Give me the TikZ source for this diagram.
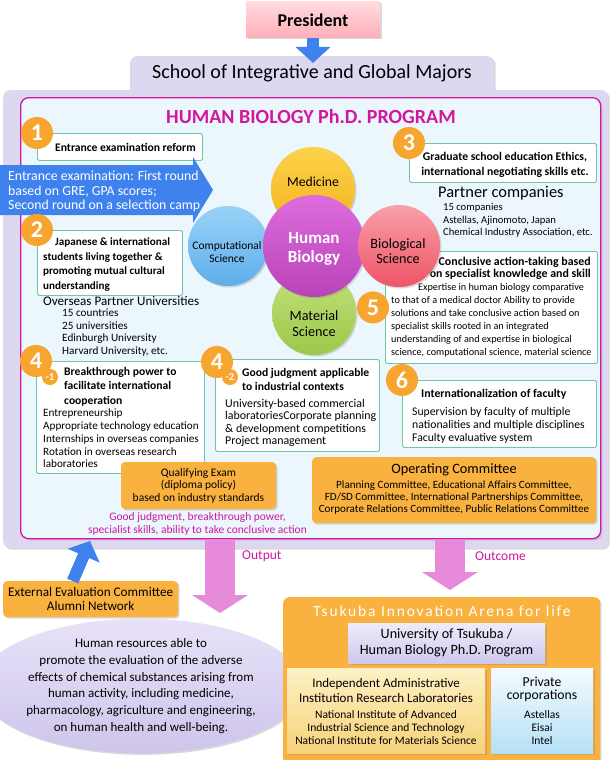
\documentclass[tikz,border=0pt]{standalone}
\usepackage{fontspec}
\setmainfont{Carlito}
\usetikzlibrary{arrows.meta,positioning,shadows,shapes.geometric}
\definecolor{lav}{HTML}{DDD8F0}
\definecolor{lavdk}{HTML}{B9AEDC}
\definecolor{skyfill}{HTML}{EBF7FD}
\definecolor{magent}{HTML}{D2169E}
\definecolor{mint}{HTML}{6CC7AE}
\definecolor{orng}{HTML}{F9B13F}
\definecolor{badgeor}{HTML}{F7A52E}
\definecolor{azure}{HTML}{3F82EE}
\definecolor{orchid}{HTML}{E78AD9}
\definecolor{pinktop}{HTML}{FFDCE0}
\definecolor{pinkbot}{HTML}{FFAEB7}
\definecolor{medtop}{HTML}{FCD24A}\definecolor{medbot}{HTML}{F4B21F}
\definecolor{hbtop}{HTML}{DE6CDE}\definecolor{hbbot}{HTML}{B844B8}
\definecolor{comptop}{HTML}{9AD2F8}\definecolor{compbot}{HTML}{5EAEEA}
\definecolor{biotop}{HTML}{F9A0A8}\definecolor{biobot}{HTML}{EE5466}
\definecolor{mattop}{HTML}{C2E07A}\definecolor{matbot}{HTML}{9CC84A}
\definecolor{elltop}{HTML}{E8E2F8}\definecolor{ellbot}{HTML}{CEC5EB}
\definecolor{univtop}{HTML}{EFEBFB}\definecolor{univbot}{HTML}{D0C8EE}
\definecolor{indtop}{HTML}{FDF1C4}\definecolor{indbot}{HTML}{F7D27A}
\definecolor{privtop}{HTML}{F4FBFE}\definecolor{privbot}{HTML}{B6E0F7}
\tikzset{softshadow/.style={drop shadow={opacity=.3,shadow xshift=1.5pt,shadow yshift=-1.5pt}},lavpanel/.style={fill=lav,rounded corners=7pt,anchor=north west,inner sep=0pt,softshadow},tealbox/.style={draw=mint,line width=.9pt,fill=white,rounded corners=1.5pt,anchor=north west,inner sep=0pt},orangebox/.style={fill=orng,rounded corners=4pt,inner sep=0pt,softshadow},badge/.style={circle,fill=badgeor,text=white,inner sep=0pt,minimum size=32pt,font=\bfseries\fontsize{24}{24}\selectfont},subbadge/.style={circle,fill=badgeor,text=white,inner sep=0pt,minimum size=16pt,font=\bfseries\fontsize{10.5}{10}\selectfont},heading/.style={inner sep=0pt,align=left,font=\bfseries\fontsize{11.6}{14.5}\selectfont},bodytext/.style={inner sep=0pt,align=left,font=\fontsize{11.2}{12.7}\selectfont},sphere/.style={circle,inner sep=0pt,softshadow},spheretext/.style={inner sep=0pt,align=center,font=\fontsize{14.2}{15}\selectfont},fatarrow/.style={line width=30pt,orchid,-{Triangle[width=55pt,length=18pt]}},bluearrow/.style={line width=12pt,azure,-{Triangle[width=34pt,length=16pt]}},outlabel/.style={text=magent,inner sep=0pt,font=\fontsize{13.5}{15}\selectfont}}
\begin{document}
\begin{tikzpicture}[x=1pt,y=-1pt]
\useasboundingbox (0,0) rectangle (610,760);
\node[lavpanel,minimum width=364pt,minimum height=44pt] (tab) at (130,56) {};
\node[lavpanel,minimum width=605pt,minimum height=458pt] (school) at (3,90) {};
\node[font=\fontsize{20}{22}\selectfont] (schooltitle) at (312,73) {School of Integrative and Global Majors};
\node[draw=magent,line width=1.3pt,fill=skyfill,rounded corners=8pt,anchor=north west,minimum width=580pt,minimum height=441pt,drop shadow={opacity=.5,color=lavdk,shadow xshift=2pt,shadow yshift=-2pt}] (prog) at (20,97) {};
\node[text=magent,font=\bfseries\fontsize{20}{22}\selectfont] (progtitle) at (311,117) {HUMAN BIOLOGY Ph.D. PROGRAM};
% president
\node[top color=pinktop,bottom color=pinkbot,minimum width=134pt,minimum height=36pt,softshadow,font=\bfseries\fontsize{18}{20}\selectfont] (pres) at (313,20) {President};
\coordinate (schooltop) at (313,63);
\draw[bluearrow] (pres.south) -- (schooltop);
% 1 entrance
\node[tealbox,minimum width=165pt,minimum height=27pt] (box1) at (37,133) {};
\node[badge] (num1) at (box1.north west) {1};
\node[heading,anchor=west] (head1) at (55,147) {Entrance examination reform};
\fill[azure] (0,165) -- (193,165) -- (193,157) -- (213,190) -- (193,223) -- (193,215) -- (0,215) -- cycle;
\node[bodytext,text=white,anchor=west,font=\fontsize{13.8}{14.5}\selectfont] (entrance) at (8,191.5) {Entrance examination: First round\\based on GRE, GPA scores;\\Second round on a selection camp};
% 2 students
\node[tealbox,minimum width=145pt,minimum height=65pt] (box2) at (37,230) {};
\node[badge] (num2) at (box2.north west) {2};
\node[heading,anchor=west,font=\bfseries\fontsize{11.1}{14.5}\selectfont] (head2) at (43,264.5) {\hspace*{12pt}Japanese \& international\\students living together \&\\promoting mutual cultural\\understanding};
\node[inner sep=0pt,anchor=west,font=\fontsize{13.1}{14}\selectfont] (overseas) at (43,301) {Overseas Partner Universities};
\node[bodytext,anchor=west,font=\fontsize{11.2}{12.4}\selectfont] (overseaslist) at (62,332.5) {15 countries\\25 universities\\Edinburgh University\\Harvard University, etc.};
% 3 ethics
\node[tealbox,minimum width=187pt,minimum height=39pt] (box3) at (409,143) {};
\node[badge] (num3) at (box3.north west) {3};
\node[heading,align=center,font=\bfseries\fontsize{11.7}{15}\selectfont] (head3) at (505,164.5) {Graduate school education Ethics,\\international negotiating skills etc.};
\node[inner sep=0pt,anchor=west,font=\fontsize{16.4}{17}\selectfont] (partner) at (438,193) {Partner companies};
\node[bodytext,anchor=west,font=\fontsize{10.6}{12.5}\selectfont] (partnerlist) at (443,220.5) {15 companies\\Astellas, Ajinomoto, Japan\\Chemical Industry Association, etc.};
% 5 conclusive action
\node[tealbox,minimum width=212pt,minimum height=112pt] (box5) at (385,251) {};
\node[badge] (num5) at ([xshift=-12pt]box5.west) {5};
\node[heading,align=right,anchor=east,font=\bfseries\fontsize{11.9}{12}\selectfont] (head5) at (591,268.5) {Conclusive action-taking based\\on specialist knowledge and skill};
\node[bodytext,anchor=west,font=\fontsize{10.2}{13}\selectfont] (body5) at (391,320.5) {\hspace*{27pt}Expertise in human biology comparative\\to that of a medical doctor Ability to provide\\solutions and take conclusive action based on\\specialist skills rooted in an integrated\\understanding of and expertise in biological\\science, computational science, material science};
% 6 faculty
\node[tealbox,minimum width=194pt,minimum height=67pt] (box6) at (402,380) {};
\node[badge] (num6) at (box6.north west) {6};
\node[heading,anchor=west,font=\bfseries\fontsize{11.8}{12}\selectfont] (head6) at (421,394) {Internationalization of faculty};
\node[bodytext,anchor=west,font=\fontsize{11.7}{13}\selectfont] (body6) at (412,425) {Supervision by faculty of multiple\\nationalities and multiple disciplines\\Faculty evaluative system};
% operating committee
\node[orangebox,anchor=north west,minimum width=284pt,minimum height=66pt] (opc) at (312,457) {};
\node[inner sep=0pt,font=\fontsize{14.3}{15}\selectfont] (opctitle) at (454,470) {Operating Committee};
\node[inner sep=0pt,align=center,font=\fontsize{11.1}{12}\selectfont] (opclist) at (454,498) {Planning Committee, Educational Affairs Committee,\\FD/SD Committee, International Partnerships Committee,\\Corporate Relations Committee, Public Relations Committee};
% 4-1 breakthrough
\node[tealbox,minimum width=168pt,minimum height=112pt] (box41) at (36,361) {};
\node[badge] (num41) at (box41.north west) {4};
\node[subbadge] (sub41) at ([shift={(14,16)}]box41.north west) {-1};
\node[heading,anchor=west] (head41) at (64,386.5) {Breakthrough power to\\facilitate international\\cooperation};
\node[bodytext,anchor=west] (body41) at (43,438.5) {Entrepreneurship\\Appropriate technology education\\Internships in overseas companies\\Rotation in overseas research\\laboratories};
% 4-2 judgment
\node[tealbox,minimum width=164pt,minimum height=92pt] (box42) at (215,359) {};
\node[badge] (num42) at ([shift={(2,3)}]box42.north west) {4};
\node[subbadge] (sub42) at ([shift={(15,18)}]box42.north west) {-2};
\node[heading,anchor=west] (head42) at (242,379.5) {Good judgment applicable\\to industrial contexts};
\node[bodytext,anchor=west,font=\fontsize{11.9}{12.3}\selectfont] (body42) at (225,423) {University-based commercial\\laboratoriesCorporate planning\\\& development competitions\\Project management};
\node[orangebox,align=center,minimum width=155pt,minimum height=47pt,font=\fontsize{11.5}{12.5}\selectfont] (qexam) at (198.5,485.5) {Qualifying Exam\\(diploma policy)\\based on industry standards};
\node[text=magent,align=center,inner sep=0pt,font=\fontsize{11.5}{13}\selectfont] (skills) at (197.5,523.5) {Good judgment, breakthrough power,\\specialist skills, ability to take conclusive action};
% disciplines
\node[sphere,minimum size=80pt,top color=comptop,bottom color=compbot] (comp) at (228,246) {};
\node[spheretext,font=\fontsize{11.5}{13}\selectfont] (complabel) at (227,252) {Computational\\Science};
\node[sphere,minimum size=84pt,top color=medtop,bottom color=medbot] (med) at (313,189) {};
\node[spheretext,font=\fontsize{13.7}{15}\selectfont] (medlabel) at (313,182) {Medicine};
\node[sphere,minimum size=84pt,top color=mattop,bottom color=matbot] (mat) at (314,313) {};
\node[spheretext,font=\fontsize{14.2}{16.5}\selectfont] (matlabel) at (314,323.5) {Material\\Science};
\node[sphere,minimum size=102pt,top color=hbtop,bottom color=hbbot] (hb) at (314,246) {};
\node[spheretext,text=white,font=\bfseries\fontsize{17}{19}\selectfont] (hblabel) at (314,249) {Human\\Biology};
\node[sphere,minimum size=82pt,top color=biotop,bottom color=biobot] (bio) at (399,246) {};
\node[spheretext] (biolabel) at (398,251) {Biological\\Science};
% outputs
\coordinate (outtip) at (220,613);
\draw[fatarrow] (prog.south -| outtip) -- (outtip);
\node[outlabel,anchor=west] (outputlabel) at (242,556) {Output};
\coordinate (outcometip) at (450,590);
\draw[fatarrow] (prog.south -| outcometip) -- (outcometip);
\node[outlabel,anchor=west] (outcomelabel) at (475,556) {Outcome};
\node[orangebox,anchor=north west,minimum width=175pt,minimum height=36pt,align=center,font=\fontsize{13.2}{13.5}\selectfont] (ext) at (3,581) {External Evaluation Committee\\Alumni Network};
\coordinate (extup) at (90,541);
\draw[bluearrow] ([xshift=-18pt]ext.north) -- (extup);
\node[ellipse,minimum width=276pt,minimum height=132pt,top color=elltop,bottom color=ellbot,softshadow,align=center,inner sep=0pt,font=\fontsize{13}{16.8}\selectfont] (result) at (141,686) {Human resources able to\\promote the evaluation of the adverse\\effects of chemical substances arising from\\human activity, including medicine,\\pharmacology, agriculture and engineering,\\on human health and well-being.};
% tsukuba arena
\node[orangebox,anchor=north west,rounded corners=6pt,minimum width=317pt,minimum height=168pt] (arena) at (283,597) {};
\node[text=white,inner sep=0pt,font=\fontsize{15.5}{17}\selectfont\addfontfeatures{LetterSpace=12}] (arenatitle) at (442,611) {Tsukuba Innovation Arena for life};
\node[top color=univtop,bottom color=univbot,softshadow,minimum width=197pt,minimum height=40pt,align=center,inner sep=0pt,font=\fontsize{14.2}{16}\selectfont] (univ) at (446.5,643) {University of Tsukuba /\\Human Biology Ph.D. Program};
\node[top color=indtop,bottom color=indbot,softshadow,minimum width=198pt,minimum height=85pt] (indep) at (386,710.5) {};
\node[inner sep=0pt,align=center,font=\fontsize{13}{15}\selectfont] (indephead) at (386,690.5) {Independent Administrative\\Institution Research Laboratories};
\node[inner sep=0pt,align=center,font=\fontsize{11.5}{13}\selectfont] (indeplist) at (386,728) {National Institute of Advanced\\Industrial Science and Technology\\National Institute for Materials Science};
\node[top color=privtop,bottom color=privbot,softshadow,minimum width=102pt,minimum height=85pt] (priv) at (542,710.5) {};
\node[inner sep=0pt,align=center,font=\fontsize{13.7}{13}\selectfont] (privhead) at (542,689) {Private\\corporations};
\node[inner sep=0pt,align=center,font=\fontsize{11.5}{13}\selectfont] (privlist) at (542,728) {Astellas\\Eisai\\Intel};
\end{tikzpicture}
\end{document}
